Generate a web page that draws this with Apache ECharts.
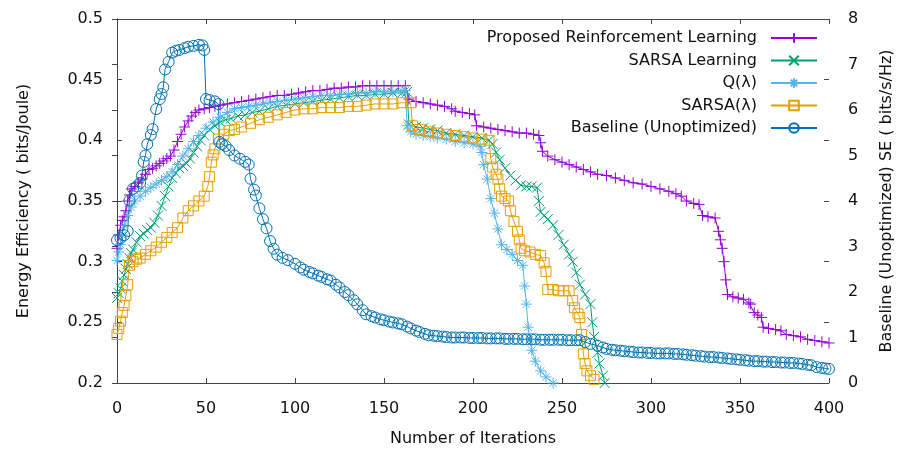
<!DOCTYPE html>
<html><head><meta charset="utf-8">
<script src="https://cdn.jsdelivr.net/npm/echarts@6/dist/echarts.min.js"></script>
<style>html,body{margin:0;padding:0;background:#fff}#c{width:903px;height:452px}</style>
</head><body><div id="c"></div>
<script>
const seriesNames = ['Proposed Reinforcement Learning','SARSA Learning','Q(\u03bb)','SARSA(\u03bb)','Baseline (Unoptimized)'];
const xAxisName = 'Number of Iterations';
const leftAxisName = 'Energy Efficiency ( bits/Joule)';
const rightAxisName = 'Baseline (Unoptimized) SE ( bits/s/Hz)';

// [iteration, energy efficiency]
const proposedRL = [[0,0.311],[1,0.322],[2,0.330],[3,0.334],[4,0.337],[5,0.342],[6,0.350],[7,0.355],[8,0.360],[10,0.362],[12,0.365],[14,0.368],[16,0.372],[18,0.376],[20,0.377],[22,0.379],[24,0.381],[26,0.383],[28,0.385],[30,0.387],[32,0.392],[34,0.399],[36,0.405],[38,0.411],[40,0.416],[42,0.420],[44,0.423],[46,0.425],[49,0.426],[52,0.427],[55,0.428],[58,0.429],[62,0.430],[66,0.431],[70,0.432],[74,0.433],[78,0.434],[82,0.435],[86,0.436],[90,0.437],[94,0.437],[98,0.438],[102,0.439],[106,0.440],[110,0.441],[114,0.441],[118,0.442],[122,0.443],[126,0.443],[130,0.444],[134,0.444],[138,0.445],[142,0.445],[146,0.445],[150,0.445],[154,0.445],[158,0.445],[162,0.445],[164,0.434],[168,0.432],[172,0.431],[176,0.430],[180,0.429],[184,0.428],[188,0.426],[190,0.424],[194,0.423],[198,0.422],[201,0.421],[202,0.412],[206,0.411],[210,0.410],[214,0.409],[218,0.408],[222,0.407],[226,0.406],[230,0.406],[234,0.405],[237,0.404],[238,0.398],[239,0.391],[242,0.387],[246,0.384],[250,0.382],[254,0.380],[258,0.378],[262,0.376],[266,0.374],[270,0.372],[275,0.371],[280,0.369],[285,0.367],[290,0.365],[295,0.364],[300,0.362],[305,0.360],[310,0.358],[314,0.356],[317,0.354],[320,0.350],[324,0.348],[327,0.347],[329,0.338],[332,0.337],[336,0.336],[338,0.325],[339,0.318],[340,0.311],[341,0.300],[342,0.285],[343,0.273],[346,0.271],[349,0.270],[352,0.269],[355,0.266],[356,0.265],[358,0.258],[360,0.256],[362,0.254],[363,0.246],[366,0.245],[370,0.244],[373,0.243],[376,0.240],[380,0.239],[384,0.238],[388,0.236],[392,0.235],[396,0.234],[400,0.233]];

const sarsaLearning = [[0,0.270],[1,0.274],[2,0.278],[3,0.284],[4,0.289],[5,0.294],[6,0.298],[7,0.303],[8,0.307],[9,0.310],[11,0.316],[13,0.321],[15,0.323],[17,0.326],[19,0.328],[21,0.332],[23,0.338],[25,0.346],[27,0.354],[29,0.362],[31,0.369],[33,0.373],[35,0.377],[37,0.379],[39,0.381],[41,0.385],[43,0.390],[45,0.395],[47,0.400],[49,0.404],[52,0.409],[55,0.412],[58,0.415],[61,0.417],[64,0.418],[68,0.420],[72,0.421],[76,0.423],[80,0.424],[85,0.426],[90,0.428],[95,0.429],[100,0.430],[105,0.431],[110,0.432],[115,0.433],[120,0.434],[125,0.435],[130,0.436],[135,0.437],[140,0.437],[145,0.438],[150,0.438],[155,0.439],[160,0.439],[163,0.440],[164,0.413],[168,0.411],[172,0.410],[176,0.409],[180,0.408],[185,0.406],[190,0.405],[195,0.404],[200,0.403],[205,0.402],[209,0.400],[211,0.397],[213,0.390],[215,0.384],[218,0.377],[221,0.371],[224,0.367],[227,0.363],[230,0.362],[233,0.362],[236,0.361],[237,0.350],[238,0.341],[240,0.338],[242,0.335],[245,0.330],[248,0.322],[251,0.314],[254,0.306],[256,0.300],[258,0.291],[260,0.281],[263,0.273],[266,0.265],[267,0.250],[268,0.238],[270,0.225],[271,0.216],[273,0.206],[274,0.200]];

const qLambda = [[0,0.301],[1,0.308],[2,0.314],[3,0.322],[4,0.330],[6,0.338],[8,0.345],[10,0.350],[13,0.354],[16,0.358],[19,0.361],[22,0.364],[25,0.367],[28,0.370],[31,0.374],[34,0.380],[37,0.387],[40,0.393],[43,0.399],[46,0.404],[50,0.410],[54,0.415],[58,0.419],[62,0.423],[66,0.426],[70,0.427],[74,0.428],[78,0.429],[82,0.430],[86,0.431],[90,0.432],[95,0.433],[100,0.434],[105,0.435],[110,0.436],[115,0.437],[120,0.437],[125,0.438],[130,0.438],[135,0.439],[140,0.439],[145,0.440],[150,0.440],[155,0.440],[160,0.441],[162,0.441],[163,0.412],[165,0.407],[168,0.405],[172,0.404],[176,0.403],[180,0.402],[185,0.401],[190,0.399],[195,0.398],[200,0.397],[204,0.395],[205,0.390],[206,0.380],[208,0.368],[210,0.352],[212,0.340],[214,0.327],[216,0.314],[219,0.310],[222,0.306],[225,0.301],[228,0.297],[229,0.280],[230,0.265],[231,0.246],[232,0.236],[233,0.227],[235,0.218],[238,0.210],[241,0.205],[245,0.200]];

const sarsaLambda = [[0,0.240],[1,0.245],[2,0.251],[3,0.258],[4,0.264],[5,0.272],[6,0.281],[7,0.297],[9,0.300],[11,0.302],[13,0.303],[16,0.306],[19,0.309],[22,0.312],[25,0.316],[28,0.320],[31,0.324],[34,0.328],[37,0.336],[40,0.342],[43,0.346],[46,0.350],[49,0.354],[51,0.362],[52,0.370],[53,0.382],[54,0.388],[55,0.393],[57,0.401],[60,0.405],[63,0.408],[66,0.409],[70,0.411],[75,0.414],[80,0.417],[85,0.419],[90,0.421],[95,0.423],[100,0.425],[105,0.426],[110,0.426],[115,0.427],[120,0.427],[125,0.427],[130,0.428],[135,0.428],[140,0.429],[145,0.430],[150,0.430],[155,0.430],[160,0.431],[165,0.431],[166,0.412],[170,0.409],[175,0.407],[180,0.406],[185,0.405],[190,0.404],[195,0.403],[200,0.402],[205,0.401],[209,0.400],[210,0.385],[211,0.378],[213,0.372],[214,0.368],[215,0.360],[216,0.354],[218,0.352],[220,0.350],[221,0.342],[223,0.333],[225,0.325],[226,0.318],[227,0.311],[229,0.309],[232,0.308],[235,0.306],[238,0.305],[240,0.299],[241,0.292],[242,0.277],[245,0.277],[248,0.276],[251,0.276],[254,0.276],[256,0.268],[257,0.262],[259,0.257],[260,0.254],[261,0.240],[262,0.224],[263,0.216],[264,0.210],[266,0.206],[268,0.203]];

// [iteration, spectral efficiency] (right axis)
const baselineSE = [[0,3.14],[2,3.18],[4,3.25],[6,3.34],[7,4.01],[9,4.27],[11,4.32],[13,4.40],[14,4.56],[15,4.86],[16,5.00],[17,5.25],[19,5.45],[20,5.58],[22,6.02],[24,6.24],[25,6.35],[26,6.50],[27,6.89],[29,7.06],[31,7.26],[33,7.30],[35,7.32],[38,7.36],[40,7.39],[43,7.41],[46,7.43],[48,7.42],[49,7.32],[50,6.24],[52,6.22],[55,6.19],[57,6.13],[57.5,5.30],[59,5.25],[61,5.21],[63,5.12],[66,5.00],[69,4.93],[72,4.86],[74,4.80],[75,4.49],[77,4.25],[78,4.12],[80,3.84],[82,3.60],[84,3.40],[86,3.12],[88,2.95],[90,2.82],[93,2.75],[96,2.70],[100,2.62],[103,2.54],[105,2.49],[108,2.44],[110,2.41],[113,2.36],[115,2.33],[118,2.28],[120,2.25],[123,2.16],[125,2.10],[128,2.00],[130,1.93],[133,1.82],[135,1.73],[138,1.60],[140,1.51],[143,1.47],[145,1.44],[148,1.40],[150,1.38],[153,1.35],[155,1.33],[158,1.31],[160,1.29],[163,1.24],[165,1.20],[168,1.15],[170,1.12],[173,1.08],[175,1.05],[178,1.04],[180,1.03],[183,1.02],[185,1.01],[188,1.00],[190,1.00],[193,1.00],[195,1.00],[198,0.99],[200,0.99],[203,0.99],[205,0.99],[208,0.98],[210,0.98],[213,0.98],[215,0.98],[218,0.97],[220,0.97],[223,0.97],[225,0.97],[228,0.96],[230,0.96],[233,0.96],[235,0.96],[238,0.95],[240,0.95],[243,0.95],[245,0.95],[248,0.95],[250,0.95],[253,0.94],[255,0.94],[258,0.94],[260,0.94],[263,0.90],[266,0.86],[270,0.82],[273,0.78],[275,0.75],[278,0.73],[280,0.72],[283,0.71],[285,0.70],[288,0.69],[290,0.68],[293,0.67],[295,0.67],[298,0.66],[300,0.66],[303,0.65],[305,0.65],[308,0.65],[310,0.65],[313,0.64],[315,0.64],[318,0.63],[320,0.62],[323,0.61],[325,0.60],[328,0.59],[330,0.58],[333,0.57],[335,0.57],[338,0.56],[340,0.55],[343,0.54],[345,0.53],[348,0.52],[350,0.51],[353,0.50],[355,0.49],[358,0.48],[360,0.48],[363,0.47],[365,0.47],[368,0.46],[370,0.46],[373,0.45],[375,0.45],[378,0.44],[380,0.44],[383,0.43],[385,0.42],[388,0.40],[390,0.39],[393,0.35],[396,0.33],[398,0.32],[400,0.31]];

const colors = ['#9400d3','#009e73','#56b4e9','#e69f00','#0072b2'];
const symbols = [
  'path://M0,5L10,5M5,0L5,10',
  'path://M0,0L10,10M0,10L10,0',
  'path://M0,5L10,5M5,0L5,10M1.6,1.6L8.4,8.4M1.6,8.4L8.4,1.6',
  'rect',
  'circle'
];
const symbolSizes = [11, 10, 11, 10, 11];
const dataSets = [proposedRL, sarsaLearning, qLambda, sarsaLambda, baselineSE];
const axisIdx = [0, 0, 0, 0, 1];

const FONT = 'DejaVu Sans';
const AX = '#444';
const TXT = '#111';

const chart = echarts.init(document.getElementById('c'), null, {renderer:'canvas'});
const tickInside = {show:true, inside:true, length:5, lineStyle:{color:AX, width:1}};
chart.setOption({
  animation:false,
  backgroundColor:'#fff',
  grid:{left:117, right:64, top:19, bottom:66, containLabel:false},
  legend:{
    orient:'vertical', right:80, top:25, align:'right',
    itemWidth:46, itemHeight:12, itemGap:6.5, selectedMode:false,
    textStyle:{fontFamily:FONT, fontSize:16, color:TXT, lineHeight:16, padding:[0,9,0,0]},
    data:seriesNames
  },
  xAxis:[
    {type:'value', min:0, max:400, interval:50, position:'bottom',
     axisLine:{show:true, lineStyle:{color:AX, width:1}}, axisTick:tickInside,
     axisLabel:{margin:18, fontFamily:FONT, fontSize:16, color:TXT},
     splitLine:{show:false},
     name:xAxisName, nameLocation:'middle', nameGap:48,
     nameTextStyle:{fontFamily:FONT, fontSize:16, color:TXT}},
    {type:'value', min:0, max:400, interval:50, position:'top',
     axisLine:{show:true, lineStyle:{color:AX, width:1}}, axisTick:tickInside,
     axisLabel:{show:false}, splitLine:{show:false}}
  ],
  yAxis:[
    {type:'value', min:0.2, max:0.5, interval:0.05, position:'left',
     axisLine:{show:true, lineStyle:{color:AX, width:1}}, axisTick:tickInside,
     axisLabel:{margin:14, fontFamily:FONT, fontSize:16, color:TXT},
     splitLine:{show:false},
     name:leftAxisName, nameLocation:'middle', nameGap:85, nameRotate:90,
     nameTextStyle:{fontFamily:FONT, fontSize:16, color:TXT}},
    {type:'value', min:0, max:8, interval:1, position:'right',
     axisLine:{show:true, lineStyle:{color:AX, width:1}}, axisTick:tickInside,
     axisLabel:{margin:19, fontFamily:FONT, fontSize:16, color:TXT},
     splitLine:{show:false},
     name:rightAxisName, nameLocation:'middle', nameGap:50, nameRotate:90,
     nameTextStyle:{fontFamily:FONT, fontSize:16, color:TXT}},
    {type:'value', min:0.2, max:0.5, interval:0.05, position:'right',
     axisLine:{show:false}, axisTick:tickInside,
     axisLabel:{show:false}, splitLine:{show:false}}
  ],
  series: seriesNames.map((n,i)=>({
    name:n, type:'line', yAxisIndex:axisIdx[i], data:dataSets[i],
    symbol:symbols[i], symbolSize:symbolSizes[i], showSymbol:true,
    lineStyle:{color:colors[i], width:1},
    itemStyle:{color:'transparent', borderColor:colors[i], borderWidth:1},
    emphasis:{disabled:true}
  }))
});
</script></body></html>
